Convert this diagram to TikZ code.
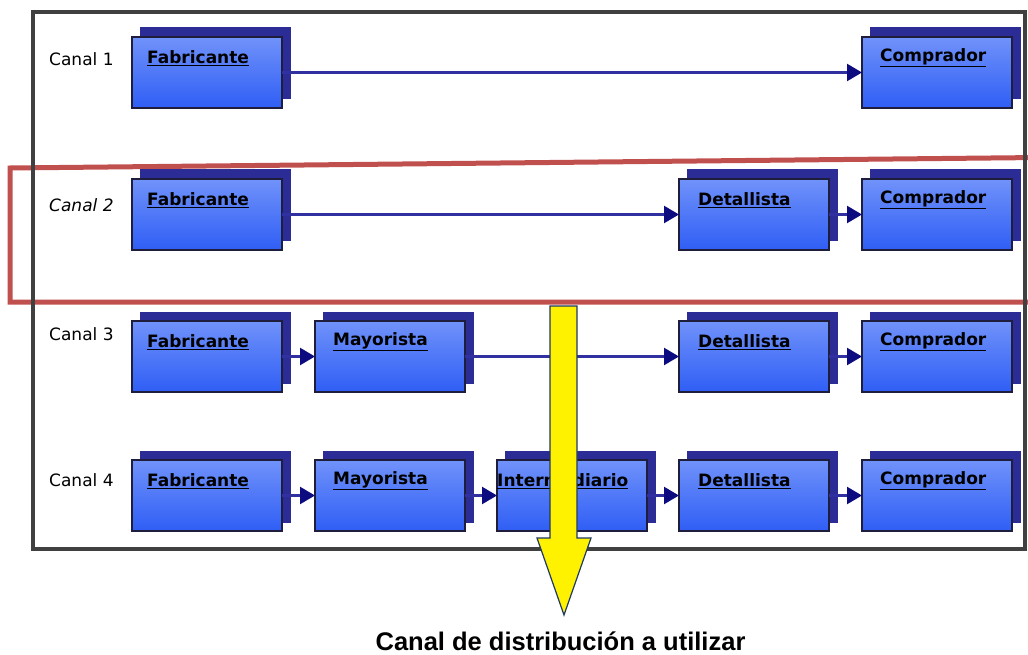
\documentclass[tikz,border=0pt]{standalone}
\usepackage{fontspec}
\setmainfont{DejaVu Sans}
\newfontfamily\arialfont{Liberation Sans}
\usetikzlibrary{shadows,arrows.meta}
\definecolor{boxtop}{HTML}{7092FA}
\definecolor{boxbot}{HTML}{2F5EF5}
\definecolor{boxedge}{HTML}{1E1E3C}
\definecolor{shadowblue}{HTML}{2C2C96}
\definecolor{connblue}{HTML}{3030A0}
\definecolor{tipblue}{HTML}{0C0C80}
\definecolor{redline}{HTML}{C0504D}
\definecolor{framegray}{HTML}{404040}
\definecolor{arrowedge}{HTML}{1F3864}
\tikzset{
  chanbox/.style={rectangle, anchor=north west, minimum width=150pt, minimum height=71pt,
    inner sep=0pt, outer sep=0pt, top color=boxtop, bottom color=boxbot,
    draw=boxedge, line width=2.2pt,
    copy shadow={shadow xshift=8pt, shadow yshift=9pt, fill=shadowblue, draw=shadowblue, line width=1pt}},
  boxlbl/.style={anchor=west, inner sep=0pt, font=\fontsize{17}{20}\selectfont\bfseries, text=black},
  canallbl/.style={anchor=west, inner sep=0pt, font=\fontsize{17}{20}\selectfont, text=black},
  conn/.style={draw=connblue, line width=2.4pt, -{Triangle[length=15pt,width=17pt,color=tipblue,fill=tipblue]}},
}
\newcommand{\ul}[1]{\underline{#1}}
\begin{document}
\begin{tikzpicture}[x=1pt,y=-1pt]
\useasboundingbox (0,0) rectangle (1028,655);
% red highlight
\draw[redline, line width=5pt] (1040,157.5) -- (10,168) -- (10,302) -- (1040,302);
% frame
\draw[framegray, line width=3.2pt] (33,12) rectangle (1025,549);
% canal labels
\node[canallbl] (k1) at (49,59) {Canal 1};
\node[canallbl] (k2) at (49,205) {\itshape Canal 2};
\node[canallbl] (k3) at (49,334) {Canal 3};
\node[canallbl] (k4) at (49,480) {Canal 4};
% row 1
\node[chanbox] (f1) at (132,37) {};
\node[chanbox] (c1) at (862,37) {};
% row 2
\node[chanbox] (f2) at (132,179) {};
\node[chanbox] (d2) at (679,179) {};
\node[chanbox] (c2) at (862,179) {};
% row 3
\node[chanbox] (f3) at (132,321) {};
\node[chanbox] (m3) at (315,321) {};
\node[chanbox] (d3) at (679,321) {};
\node[chanbox] (c3) at (862,321) {};
% row 4
\node[chanbox] (f4) at (132,460) {};
\node[chanbox] (m4) at (315,460) {};
\node[chanbox] (i4) at (497,460) {};
\node[chanbox] (d4) at (679,460) {};
\node[chanbox] (c4) at (862,460) {};
% labels
\foreach \n/\t/\dx in {f1/Fabricante/15, c1/Comprador/18,
  f2/Fabricante/15, d2/Detallista/19, c2/Comprador/18,
  f3/Fabricante/15, m3/Mayorista/18, d3/Detallista/19, c3/Comprador/18,
  f4/Fabricante/15, m4/Mayorista/18, i4/Intermediario/0, d4/Detallista/19, c4/Comprador/18}
  \node[boxlbl] (l\n) at ([xshift=\dx pt, yshift=-21pt]\n.north west) {\ul{\t}};
% connectors
\draw[conn] (f1.east) -- (c1.west);
\draw[conn] (f2.east) -- (d2.west);
\draw[conn] (d2.east) -- (c2.west);
\draw[conn] (f3.east) -- (m3.west);
\draw[conn] (m3.east) -- (d3.west);
\draw[conn] (d3.east) -- (c3.west);
\draw[conn] (f4.east) -- (m4.west);
\draw[conn] (m4.east) -- (i4.west);
\draw[conn] (i4.east) -- (d4.west);
\draw[conn] (d4.east) -- (c4.west);
% yellow arrow
\draw[fill=yellow, draw=arrowedge, line width=1.2pt, line join=miter]
  (550,306) -- (577,306) -- (577,538) -- (591,538) -- (564,615) -- (537,538) -- (550,538) -- cycle;
\node[font=\arialfont\fontsize{25.5}{30}\selectfont\bfseries, anchor=base, inner sep=0pt] (cap) at (560.5,650) {Canal de distribución a utilizar};
\end{tikzpicture}
\end{document}
